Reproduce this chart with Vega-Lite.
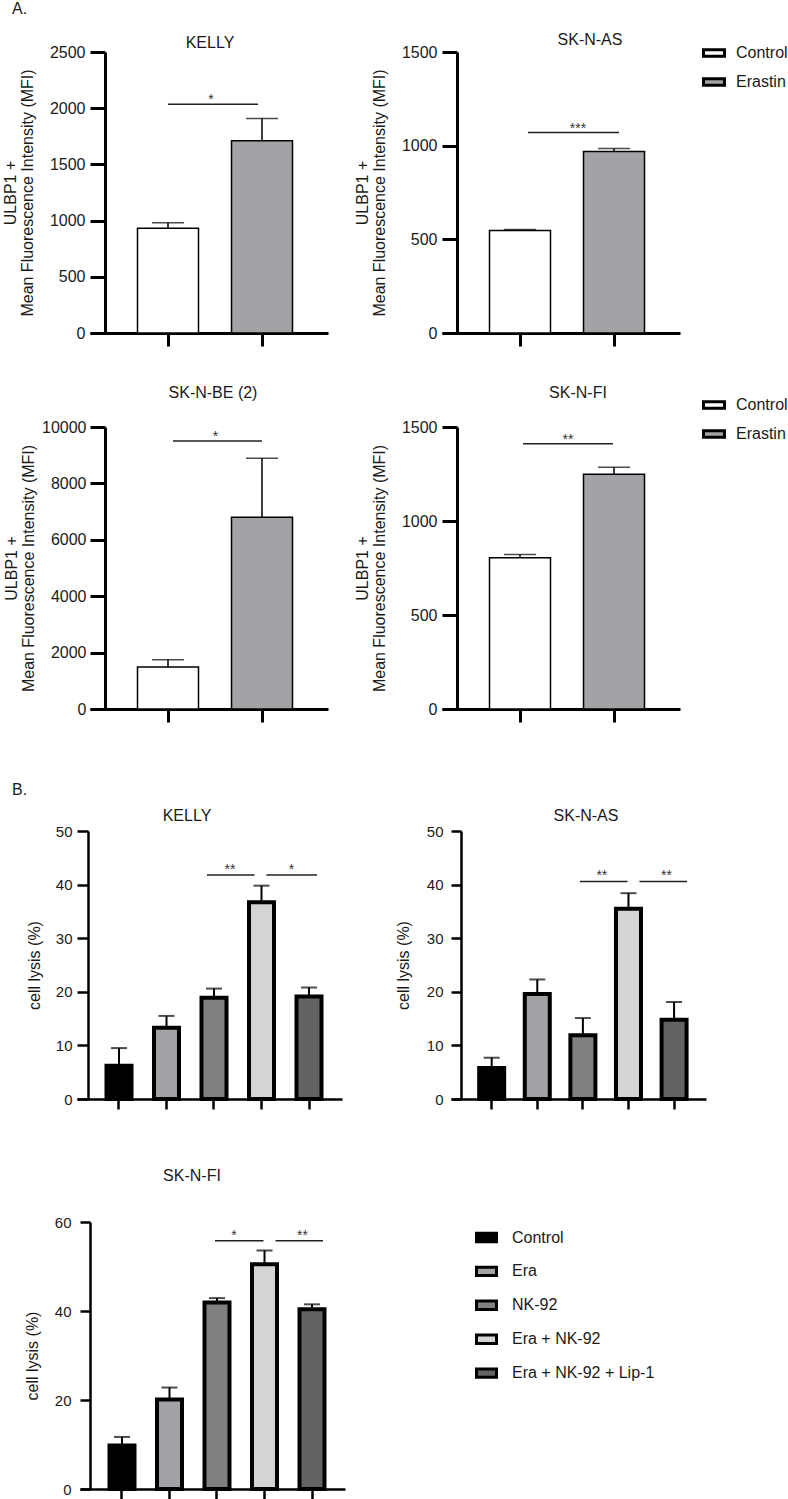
{
  "$schema": "https://vega.github.io/schema/vega-lite/v6.json",
  "padding": 0,
  "bounds": "flush",
  "columns": 4,
  "align": "each",
  "spacing": {"row": 0, "column": 0},
  "resolve": {"scale": {"fill": "independent"}, "legend": {"fill": "independent"}},
  "config": {
    "font": "Liberation Sans",
    "view": {"stroke": null},
    "axis": {
      "grid": false,
      "domainColor": "black",
      "tickColor": "black",
      "labelColor": "#1a1a1a",
      "labelFont": "Liberation Sans",
      "labelFontSize": 16,
      "titleFont": "Liberation Sans",
      "titleFontSize": 16,
      "titleFontWeight": "normal",
      "titleColor": "#1a1a1a",
      "titleLineHeight": 17
    },
    "title": {"font": "Liberation Sans", "fontSize": 16, "fontWeight": "normal", "color": "#1a1a1a", "frame": "group", "baseline": "alphabetic"},
    "legend": {"labelFont": "Liberation Sans", "labelFontSize": 16, "labelColor": "#1a1a1a"}
  },
  "datasets": {
    "mfi": [
      {"cell": "KELLY", "group": "Control", "mean": 931, "upper": 981},
      {"cell": "KELLY", "group": "Erastin", "mean": 1711, "upper": 1908},
      {"cell": "SK-N-AS", "group": "Control", "mean": 547, "upper": 553},
      {"cell": "SK-N-AS", "group": "Erastin", "mean": 969, "upper": 985},
      {"cell": "SK-N-BE (2)", "group": "Control", "mean": 1491, "upper": 1750},
      {"cell": "SK-N-BE (2)", "group": "Erastin", "mean": 6804, "upper": 8889},
      {"cell": "SK-N-FI", "group": "Control", "mean": 805, "upper": 822},
      {"cell": "SK-N-FI", "group": "Erastin", "mean": 1249, "upper": 1286}
    ],
    "mfi_sig": [
      {"cell": "KELLY", "a": "Control", "b": "Erastin", "level": 2035, "p": "*"},
      {"cell": "SK-N-AS", "a": "Control", "b": "Erastin", "level": 1070, "p": "***"},
      {"cell": "SK-N-BE (2)", "a": "Control", "b": "Erastin", "level": 9503, "p": "*"},
      {"cell": "SK-N-FI", "a": "Control", "b": "Erastin", "level": 1411, "p": "**"}
    ],
    "lysis": [
      {"cell": "KELLY", "treatment": "Control", "mean": 6.2, "upper": 9.5},
      {"cell": "KELLY", "treatment": "Era", "mean": 13.3, "upper": 15.5},
      {"cell": "KELLY", "treatment": "NK-92", "mean": 18.9, "upper": 20.6},
      {"cell": "KELLY", "treatment": "Era + NK-92", "mean": 36.7, "upper": 39.8},
      {"cell": "KELLY", "treatment": "Era + NK-92 + Lip-1", "mean": 19.1, "upper": 20.8},
      {"cell": "SK-N-AS", "treatment": "Control", "mean": 5.8, "upper": 7.7},
      {"cell": "SK-N-AS", "treatment": "Era", "mean": 19.6, "upper": 22.3},
      {"cell": "SK-N-AS", "treatment": "NK-92", "mean": 11.9, "upper": 15.1},
      {"cell": "SK-N-AS", "treatment": "Era + NK-92", "mean": 35.5, "upper": 38.4},
      {"cell": "SK-N-AS", "treatment": "Era + NK-92 + Lip-1", "mean": 14.8, "upper": 18.1},
      {"cell": "SK-N-FI", "treatment": "Control", "mean": 9.8, "upper": 11.7},
      {"cell": "SK-N-FI", "treatment": "Era", "mean": 20.1, "upper": 22.8},
      {"cell": "SK-N-FI", "treatment": "NK-92", "mean": 41.9, "upper": 42.9},
      {"cell": "SK-N-FI", "treatment": "Era + NK-92", "mean": 50.5, "upper": 53.6},
      {"cell": "SK-N-FI", "treatment": "Era + NK-92 + Lip-1", "mean": 40.4, "upper": 41.5}
    ],
    "lysis_sig": [
      {"cell": "KELLY", "a": "NK-92", "b": "Era + NK-92", "level": 41.8, "p": "**"},
      {"cell": "KELLY", "a": "Era + NK-92", "b": "Era + NK-92 + Lip-1", "level": 41.8, "p": "*"},
      {"cell": "SK-N-AS", "a": "NK-92", "b": "Era + NK-92", "level": 40.6, "p": "**"},
      {"cell": "SK-N-AS", "a": "Era + NK-92", "b": "Era + NK-92 + Lip-1", "level": 40.6, "p": "**"},
      {"cell": "SK-N-FI", "a": "NK-92", "b": "Era + NK-92", "level": 55.8, "p": "*"},
      {"cell": "SK-N-FI", "a": "Era + NK-92", "b": "Era + NK-92 + Lip-1", "level": 55.8, "p": "**"}
    ]
  },
  "concat": [
    {"width": 77, "height": 52, "data": {"values": []}, "mark": "rule", "encoding": {}},
    {"width": 1, "height": 1, "data": {"values": []}, "mark": "rule", "encoding": {}},
    {"width": 97, "height": 1, "data": {"values": []}, "mark": "rule", "encoding": {}},
    {"width": 1, "height": 1, "data": {"values": []}, "mark": "rule", "encoding": {}},

    {"width": 1, "height": 1, "data": {"values": []}, "mark": "rule", "encoding": {},
     "title": {"text": "A.", "anchor": "start", "dx": 12, "offset": 35.5}},
    {
      "width": 251, "height": 281,
      "title": {"text": "KELLY", "anchor": "middle", "dx": 7.5, "offset": -6.7},
      "layer": [
        {
          "data": {"name": "mfi"},
          "transform": [{"filter": "datum.cell === 'KELLY'"}],
          "layer": [
            {
              "mark": {"type": "bar", "stroke": "black", "strokeWidth": 1.5},
              "encoding": {
                "x": {"field": "group", "type": "nominal", "scale": {"domain": ["Control", "Erastin"], "range": [13, 251], "paddingInner": 0.3511, "paddingOuter": 0.4415, "align": 0.5723}, "axis": {"title": null, "labels": false, "tickSize": 13, "tickWidth": 3, "domainWidth": 3}},
                "y": {"field": "mean", "type": "quantitative", "scale": {"domain": [0, 2500], "nice": false}, "axis": {"values": [0, 500, 1000, 1500, 2000, 2500], "format": "d", "offset": -28, "tickSize": 15, "tickWidth": 3, "domainWidth": 3, "labelPadding": 5, "title": ["ULBP1 +", "Mean Fluorescence Intensity (MFI)"], "titlePadding": 14}},
                "fill": {"field": "group", "type": "nominal", "scale": {"domain": ["Control", "Erastin"], "range": ["#ffffff", "#a3a2a7"]}, "legend": null}
              }
            },
            {
              "mark": {"type": "rule", "strokeWidth": 1.5, "color": "black"},
              "encoding": {
                "x": {"field": "group", "type": "nominal", "scale": {"domain": ["Control", "Erastin"]}},
                "y": {"field": "mean", "type": "quantitative"},
                "y2": {"field": "upper"}
              }
            },
            {
              "mark": {"type": "tick", "orient": "horizontal", "size": 32, "thickness": 1.5, "color": "black"},
              "encoding": {
                "x": {"field": "group", "type": "nominal", "scale": {"domain": ["Control", "Erastin"]}},
                "y": {"field": "upper", "type": "quantitative"}
              }
            }
          ]
        },
        {
          "data": {"name": "mfi_sig"},
          "transform": [{"filter": "datum.cell === 'KELLY'"}],
          "layer": [
            {
              "mark": {"type": "rule", "strokeWidth": 1.5, "color": "#222", "xOffset": 0, "x2Offset": -4},
              "encoding": {
                "x": {"field": "a", "type": "nominal", "scale": {"domain": ["Control", "Erastin"]}},
                "x2": {"field": "b"},
                "y": {"field": "level", "type": "quantitative"}
              }
            },
            {
              "mark": {"type": "text", "fontSize": 14, "color": "#333", "dx": 43, "baseline": "alphabetic"},
              "encoding": {
                "x": {"field": "a", "type": "nominal", "scale": {"domain": ["Control", "Erastin"]}},
                "y": {"field": "level", "type": "quantitative"},
                "text": {"field": "p"}
              }
            }
          ]
        }
      ]
    },
    {"width": 1, "height": 1, "data": {"values": []}, "mark": "rule", "encoding": {}},
    {
      "width": 238, "height": 281,
      "title": {"text": "SK-N-AS", "anchor": "middle", "dx": 29, "offset": -6.7},
      "layer": [
        {
          "data": {"name": "mfi"},
          "transform": [{"filter": "datum.cell === 'SK-N-AS'"}],
          "layer": [
            {
              "mark": {"type": "bar", "stroke": "black", "strokeWidth": 1.5},
              "encoding": {
                "x": {"field": "group", "type": "nominal", "scale": {"domain": ["Control", "Erastin"], "paddingInner": 0.3511, "paddingOuter": 0.4415, "align": 0.5723}, "axis": {"title": null, "labels": false, "tickSize": 13, "tickWidth": 3, "domainWidth": 3}},
                "y": {"field": "mean", "type": "quantitative", "scale": {"domain": [0, 1500], "nice": false}, "axis": {"values": [0, 500, 1000, 1500], "format": "d", "offset": -15, "tickSize": 15, "tickWidth": 3, "domainWidth": 3, "labelPadding": 5, "title": ["ULBP1 +", "Mean Fluorescence Intensity (MFI)"], "titlePadding": 14}},
                "fill": {"field": "group", "type": "nominal", "scale": {"domain": ["Control", "Erastin"], "range": ["#ffffff", "#a3a2a7"]}, "legend": {"title": null, "orient": "none", "legendX": 260, "legendY": -11, "symbolType": "M-1,-0.3H1V0.3H-1Z", "symbolSize": 441, "symbolStrokeColor": "black", "symbolStrokeWidth": 3, "labelOffset": 10, "rowPadding": 7}}
              }
            },
            {
              "mark": {"type": "rule", "strokeWidth": 1.5, "color": "black"},
              "encoding": {
                "x": {"field": "group", "type": "nominal", "scale": {"domain": ["Control", "Erastin"]}},
                "y": {"field": "mean", "type": "quantitative"},
                "y2": {"field": "upper"}
              }
            },
            {
              "mark": {"type": "tick", "orient": "horizontal", "size": 32, "thickness": 1.5, "color": "black"},
              "encoding": {
                "x": {"field": "group", "type": "nominal", "scale": {"domain": ["Control", "Erastin"]}},
                "y": {"field": "upper", "type": "quantitative"}
              }
            }
          ]
        },
        {
          "data": {"name": "mfi_sig"},
          "transform": [{"filter": "datum.cell === 'SK-N-AS'"}],
          "layer": [
            {
              "mark": {"type": "rule", "strokeWidth": 1.5, "color": "#222", "xOffset": 8, "x2Offset": 5},
              "encoding": {
                "x": {"field": "a", "type": "nominal", "scale": {"domain": ["Control", "Erastin"]}},
                "x2": {"field": "b"},
                "y": {"field": "level", "type": "quantitative"}
              }
            },
            {
              "mark": {"type": "text", "fontSize": 14, "color": "#333", "dx": 58, "baseline": "alphabetic"},
              "encoding": {
                "x": {"field": "a", "type": "nominal", "scale": {"domain": ["Control", "Erastin"]}},
                "y": {"field": "level", "type": "quantitative"},
                "text": {"field": "p"}
              }
            }
          ]
        }
      ]
    },

    {"width": 1, "height": 94, "data": {"values": []}, "mark": "rule", "encoding": {}},
    {"width": 1, "height": 1, "data": {"values": []}, "mark": "rule", "encoding": {}},
    {"width": 1, "height": 1, "data": {"values": []}, "mark": "rule", "encoding": {}},
    {"width": 1, "height": 1, "data": {"values": []}, "mark": "rule", "encoding": {}},

    {"width": 1, "height": 1, "data": {"values": []}, "mark": "rule", "encoding": {}},
    {
      "width": 251, "height": 282,
      "title": {"text": "SK-N-BE (2)", "anchor": "middle", "dx": 10.5, "offset": 18.3},
      "layer": [
        {
          "data": {"name": "mfi"},
          "transform": [{"filter": "datum.cell === 'SK-N-BE (2)'"}],
          "layer": [
            {
              "mark": {"type": "bar", "stroke": "black", "strokeWidth": 1.5},
              "encoding": {
                "x": {"field": "group", "type": "nominal", "scale": {"domain": ["Control", "Erastin"], "range": [13, 251], "paddingInner": 0.3511, "paddingOuter": 0.4415, "align": 0.5723}, "axis": {"title": null, "labels": false, "tickSize": 13, "tickWidth": 3, "domainWidth": 3}},
                "y": {"field": "mean", "type": "quantitative", "scale": {"domain": [0, 10000], "nice": false}, "axis": {"values": [0, 2000, 4000, 6000, 8000, 10000], "format": "d", "offset": -28, "tickSize": 15, "tickWidth": 3, "domainWidth": 3, "labelPadding": 4, "title": ["ULBP1 +", "Mean Fluorescence Intensity (MFI)"], "titlePadding": 5}},
                "fill": {"field": "group", "type": "nominal", "scale": {"domain": ["Control", "Erastin"], "range": ["#ffffff", "#a3a2a7"]}, "legend": null}
              }
            },
            {
              "mark": {"type": "rule", "strokeWidth": 1.5, "color": "black"},
              "encoding": {
                "x": {"field": "group", "type": "nominal", "scale": {"domain": ["Control", "Erastin"]}},
                "y": {"field": "mean", "type": "quantitative"},
                "y2": {"field": "upper"}
              }
            },
            {
              "mark": {"type": "tick", "orient": "horizontal", "size": 32, "thickness": 1.5, "color": "black"},
              "encoding": {
                "x": {"field": "group", "type": "nominal", "scale": {"domain": ["Control", "Erastin"]}},
                "y": {"field": "upper", "type": "quantitative"}
              }
            }
          ]
        },
        {
          "data": {"name": "mfi_sig"},
          "transform": [{"filter": "datum.cell === 'SK-N-BE (2)'"}],
          "layer": [
            {
              "mark": {"type": "rule", "strokeWidth": 1.5, "color": "#222", "xOffset": 5, "x2Offset": 0},
              "encoding": {
                "x": {"field": "a", "type": "nominal", "scale": {"domain": ["Control", "Erastin"]}},
                "x2": {"field": "b"},
                "y": {"field": "level", "type": "quantitative"}
              }
            },
            {
              "mark": {"type": "text", "fontSize": 14, "color": "#333", "dx": 47.5, "baseline": "alphabetic"},
              "encoding": {
                "x": {"field": "a", "type": "nominal", "scale": {"domain": ["Control", "Erastin"]}},
                "y": {"field": "level", "type": "quantitative"},
                "text": {"field": "p"}
              }
            }
          ]
        }
      ]
    },
    {"width": 1, "height": 1, "data": {"values": []}, "mark": "rule", "encoding": {}},
    {
      "width": 238, "height": 282,
      "title": {"text": "SK-N-FI", "anchor": "middle", "dx": 17, "offset": -7.7},
      "layer": [
        {
          "data": {"name": "mfi"},
          "transform": [{"filter": "datum.cell === 'SK-N-FI'"}],
          "layer": [
            {
              "mark": {"type": "bar", "stroke": "black", "strokeWidth": 1.5},
              "encoding": {
                "x": {"field": "group", "type": "nominal", "scale": {"domain": ["Control", "Erastin"], "paddingInner": 0.3511, "paddingOuter": 0.4415, "align": 0.5723}, "axis": {"title": null, "labels": false, "tickSize": 13, "tickWidth": 3, "domainWidth": 3}},
                "y": {"field": "mean", "type": "quantitative", "scale": {"domain": [0, 1500], "nice": false}, "axis": {"values": [0, 500, 1000, 1500], "format": "d", "offset": -15, "tickSize": 15, "tickWidth": 3, "domainWidth": 3, "labelPadding": 5, "title": ["ULBP1 +", "Mean Fluorescence Intensity (MFI)"], "titlePadding": 14}},
                "fill": {"field": "group", "type": "nominal", "scale": {"domain": ["Control", "Erastin"], "range": ["#ffffff", "#a3a2a7"]}, "legend": {"title": null, "orient": "none", "legendX": 260, "legendY": -34, "symbolType": "M-1,-0.3H1V0.3H-1Z", "symbolSize": 441, "symbolStrokeColor": "black", "symbolStrokeWidth": 3, "labelOffset": 10, "rowPadding": 7}}
              }
            },
            {
              "mark": {"type": "rule", "strokeWidth": 1.5, "color": "black"},
              "encoding": {
                "x": {"field": "group", "type": "nominal", "scale": {"domain": ["Control", "Erastin"]}},
                "y": {"field": "mean", "type": "quantitative"},
                "y2": {"field": "upper"}
              }
            },
            {
              "mark": {"type": "tick", "orient": "horizontal", "size": 32, "thickness": 1.5, "color": "black"},
              "encoding": {
                "x": {"field": "group", "type": "nominal", "scale": {"domain": ["Control", "Erastin"]}},
                "y": {"field": "upper", "type": "quantitative"}
              }
            }
          ]
        },
        {
          "data": {"name": "mfi_sig"},
          "transform": [{"filter": "datum.cell === 'SK-N-FI'"}],
          "layer": [
            {
              "mark": {"type": "rule", "strokeWidth": 1.5, "color": "#222", "xOffset": 3, "x2Offset": -1},
              "encoding": {
                "x": {"field": "a", "type": "nominal", "scale": {"domain": ["Control", "Erastin"]}},
                "x2": {"field": "b"},
                "y": {"field": "level", "type": "quantitative"}
              }
            },
            {
              "mark": {"type": "text", "fontSize": 14, "color": "#333", "dx": 48, "baseline": "alphabetic"},
              "encoding": {
                "x": {"field": "a", "type": "nominal", "scale": {"domain": ["Control", "Erastin"]}},
                "y": {"field": "level", "type": "quantitative"},
                "text": {"field": "p"}
              }
            }
          ]
        }
      ]
    },

    {"width": 1, "height": 121.5, "data": {"values": []}, "mark": "rule", "encoding": {}},
    {"width": 1, "height": 1, "data": {"values": []}, "mark": "rule", "encoding": {}},
    {"width": 1, "height": 1, "data": {"values": []}, "mark": "rule", "encoding": {}},
    {"width": 1, "height": 1, "data": {"values": []}, "mark": "rule", "encoding": {}},

    {"width": 1, "height": 1, "data": {"values": []}, "mark": "rule", "encoding": {},
     "title": {"text": "B.", "anchor": "start", "dx": 12, "offset": 32.8}},
    {
      "width": 265, "height": 268,
      "title": {"text": "KELLY", "anchor": "middle", "dx": -22.5, "offset": 0.3},
      "layer": [
        {
          "data": {"name": "lysis"},
          "transform": [{"filter": "datum.cell === 'KELLY'"}],
          "layer": [
            {
              "mark": {"type": "bar", "stroke": "black", "strokeWidth": 4},
              "encoding": {
                "x": {"field": "treatment", "type": "nominal", "scale": {"domain": ["Control", "Era", "NK-92", "Era + NK-92", "Era + NK-92 + Lip-1"], "paddingInner": 0.4737, "paddingOuter": 0.5263, "align": 0.59}, "axis": {"title": null, "labels": false, "tickSize": 10, "tickWidth": 2.5, "domainWidth": 2.5}},
                "y": {"field": "mean", "type": "quantitative", "scale": {"domain": [0, 50], "nice": false}, "axis": {"values": [0, 10, 20, 30, 40, 50], "offset": -11, "tickSize": 11, "tickWidth": 2.5, "domainWidth": 2.5, "labelPadding": 5, "labelFontSize": 15, "title": "cell lysis (%)", "titlePadding": 13}},
                "fill": {"field": "treatment", "type": "nominal", "scale": {"domain": ["Control", "Era", "NK-92", "Era + NK-92", "Era + NK-92 + Lip-1"], "range": ["#000000", "#a2a1a6", "#808080", "#d4d4d4", "#636363"]}, "legend": null}
              }
            },
            {
              "mark": {"type": "rule", "strokeWidth": 2, "color": "black"},
              "encoding": {
                "x": {"field": "treatment", "type": "nominal", "scale": {"domain": ["Control", "Era", "NK-92", "Era + NK-92", "Era + NK-92 + Lip-1"]}},
                "y": {"field": "mean", "type": "quantitative"},
                "y2": {"field": "upper"}
              }
            },
            {
              "mark": {"type": "tick", "orient": "horizontal", "size": 16, "thickness": 2, "color": "black"},
              "encoding": {
                "x": {"field": "treatment", "type": "nominal", "scale": {"domain": ["Control", "Era", "NK-92", "Era + NK-92", "Era + NK-92 + Lip-1"]}},
                "y": {"field": "upper", "type": "quantitative"}
              }
            }
          ]
        },
        {
          "data": {"name": "lysis_sig"},
          "transform": [{"filter": "datum.cell === 'KELLY' && datum.b === 'Era + NK-92'"}],
          "layer": [
            {
              "mark": {"type": "rule", "strokeWidth": 1.5, "color": "#222", "xOffset": -7, "x2Offset": -7},
              "encoding": {
                "x": {"field": "a", "type": "nominal", "scale": {"domain": ["Control", "Era", "NK-92", "Era + NK-92", "Era + NK-92 + Lip-1"]}},
                "x2": {"field": "b"},
                "y": {"field": "level", "type": "quantitative"}
              }
            },
            {
              "mark": {"type": "text", "fontSize": 14, "color": "#333", "dx": 16, "dy": -1, "baseline": "alphabetic"},
              "encoding": {
                "x": {"field": "a", "type": "nominal", "scale": {"domain": ["Control", "Era", "NK-92", "Era + NK-92", "Era + NK-92 + Lip-1"]}},
                "y": {"field": "level", "type": "quantitative"},
                "text": {"field": "p"}
              }
            }
          ]
        },
        {
          "data": {"name": "lysis_sig"},
          "transform": [{"filter": "datum.cell === 'KELLY' && datum.a === 'Era + NK-92'"}],
          "layer": [
            {
              "mark": {"type": "rule", "strokeWidth": 1.5, "color": "#222", "xOffset": 5, "x2Offset": 8},
              "encoding": {
                "x": {"field": "a", "type": "nominal", "scale": {"domain": ["Control", "Era", "NK-92", "Era + NK-92", "Era + NK-92 + Lip-1"]}},
                "x2": {"field": "b"},
                "y": {"field": "level", "type": "quantitative"}
              }
            },
            {
              "mark": {"type": "text", "fontSize": 14, "color": "#333", "dx": 30, "dy": -1, "baseline": "alphabetic"},
              "encoding": {
                "x": {"field": "a", "type": "nominal", "scale": {"domain": ["Control", "Era", "NK-92", "Era + NK-92", "Era + NK-92 + Lip-1"]}},
                "y": {"field": "level", "type": "quantitative"},
                "text": {"field": "p"}
              }
            }
          ]
        }
      ]
    },
    {"width": 1, "height": 1, "data": {"values": []}, "mark": "rule", "encoding": {}},
    {
      "width": 264, "height": 268,
      "title": {"text": "SK-N-AS", "anchor": "middle", "dx": 12, "offset": 0.3},
      "layer": [
        {
          "data": {"name": "lysis"},
          "transform": [{"filter": "datum.cell === 'SK-N-AS'"}],
          "layer": [
            {
              "mark": {"type": "bar", "stroke": "black", "strokeWidth": 4},
              "encoding": {
                "x": {"field": "treatment", "type": "nominal", "scale": {"domain": ["Control", "Era", "NK-92", "Era + NK-92", "Era + NK-92 + Lip-1"], "range": [9, 264], "paddingInner": 0.4518, "paddingOuter": 0.522, "align": 0.592}, "axis": {"title": null, "labels": false, "tickSize": 10, "tickWidth": 2.5, "domainWidth": 2.5}},
                "y": {"field": "mean", "type": "quantitative", "scale": {"domain": [0, 50], "nice": false}, "axis": {"values": [0, 10, 20, 30, 40, 50], "offset": -19, "tickSize": 10, "tickWidth": 2.5, "domainWidth": 2.5, "labelPadding": 8, "labelFontSize": 15, "title": "cell lysis (%)", "titlePadding": 15}},
                "fill": {"field": "treatment", "type": "nominal", "scale": {"domain": ["Control", "Era", "NK-92", "Era + NK-92", "Era + NK-92 + Lip-1"], "range": ["#000000", "#a2a1a6", "#808080", "#d4d4d4", "#636363"]}, "legend": null}
              }
            },
            {
              "mark": {"type": "rule", "strokeWidth": 2, "color": "black"},
              "encoding": {
                "x": {"field": "treatment", "type": "nominal", "scale": {"domain": ["Control", "Era", "NK-92", "Era + NK-92", "Era + NK-92 + Lip-1"]}},
                "y": {"field": "mean", "type": "quantitative"},
                "y2": {"field": "upper"}
              }
            },
            {
              "mark": {"type": "tick", "orient": "horizontal", "size": 16, "thickness": 2, "color": "black"},
              "encoding": {
                "x": {"field": "treatment", "type": "nominal", "scale": {"domain": ["Control", "Era", "NK-92", "Era + NK-92", "Era + NK-92 + Lip-1"]}},
                "y": {"field": "upper", "type": "quantitative"}
              }
            }
          ]
        },
        {
          "data": {"name": "lysis_sig"},
          "transform": [{"filter": "datum.cell === 'SK-N-AS' && datum.b === 'Era + NK-92'"}],
          "layer": [
            {
              "mark": {"type": "rule", "strokeWidth": 1.5, "color": "#222", "xOffset": -3, "x2Offset": -1},
              "encoding": {
                "x": {"field": "a", "type": "nominal", "scale": {"domain": ["Control", "Era", "NK-92", "Era + NK-92", "Era + NK-92 + Lip-1"]}},
                "x2": {"field": "b"},
                "y": {"field": "level", "type": "quantitative"}
              }
            },
            {
              "mark": {"type": "text", "fontSize": 14, "color": "#333", "dx": 19, "dy": -1, "baseline": "alphabetic"},
              "encoding": {
                "x": {"field": "a", "type": "nominal", "scale": {"domain": ["Control", "Era", "NK-92", "Era + NK-92", "Era + NK-92 + Lip-1"]}},
                "y": {"field": "level", "type": "quantitative"},
                "text": {"field": "p"}
              }
            }
          ]
        },
        {
          "data": {"name": "lysis_sig"},
          "transform": [{"filter": "datum.cell === 'SK-N-AS' && datum.a === 'Era + NK-92'"}],
          "layer": [
            {
              "mark": {"type": "rule", "strokeWidth": 1.5, "color": "#222", "xOffset": 11, "x2Offset": 13},
              "encoding": {
                "x": {"field": "a", "type": "nominal", "scale": {"domain": ["Control", "Era", "NK-92", "Era + NK-92", "Era + NK-92 + Lip-1"]}},
                "x2": {"field": "b"},
                "y": {"field": "level", "type": "quantitative"}
              }
            },
            {
              "mark": {"type": "text", "fontSize": 14, "color": "#333", "dx": 38, "dy": -1, "baseline": "alphabetic"},
              "encoding": {
                "x": {"field": "a", "type": "nominal", "scale": {"domain": ["Control", "Era", "NK-92", "Era + NK-92", "Era + NK-92 + Lip-1"]}},
                "y": {"field": "level", "type": "quantitative"},
                "text": {"field": "p"}
              }
            }
          ]
        }
      ]
    },

    {"width": 1, "height": 122.5, "data": {"values": []}, "mark": "rule", "encoding": {}},
    {"width": 1, "height": 1, "data": {"values": []}, "mark": "rule", "encoding": {}},
    {"width": 1, "height": 1, "data": {"values": []}, "mark": "rule", "encoding": {}},
    {"width": 1, "height": 1, "data": {"values": []}, "mark": "rule", "encoding": {}},

    {"width": 1, "height": 1, "data": {"values": []}, "mark": "rule", "encoding": {}},
    {
      "width": 268, "height": 267,
      "title": {"text": "SK-N-FI", "anchor": "middle", "dx": -19, "offset": 30.8},
      "layer": [
        {
          "data": {"name": "lysis"},
          "transform": [{"filter": "datum.cell === 'SK-N-FI'"}],
          "layer": [
            {
              "mark": {"type": "bar", "stroke": "black", "strokeWidth": 4},
              "encoding": {
                "x": {"field": "treatment", "type": "nominal", "scale": {"domain": ["Control", "Era", "NK-92", "Era + NK-92", "Era + NK-92 + Lip-1"], "range": [3, 268], "paddingInner": 0.4737, "paddingOuter": 0.5263, "align": 0.59}, "axis": {"title": null, "labels": false, "tickSize": 10, "tickWidth": 2.5, "domainWidth": 2.5}},
                "y": {"field": "mean", "type": "quantitative", "scale": {"domain": [0, 60], "nice": false}, "axis": {"values": [0, 20, 40, 60], "offset": -13, "tickSize": 10, "tickWidth": 2.5, "domainWidth": 2.5, "labelPadding": 9, "labelFontSize": 15, "title": "cell lysis (%)", "titlePadding": 14}},
                "fill": {"field": "treatment", "type": "nominal", "scale": {"domain": ["Control", "Era", "NK-92", "Era + NK-92", "Era + NK-92 + Lip-1"], "range": ["#000000", "#a2a1a6", "#808080", "#d4d4d4", "#636363"]}, "legend": {"title": null, "orient": "right", "offset": 126, "padding": 4, "symbolType": "M-1,-0.42H1V0.42H-1Z", "symbolSize": 400, "symbolStrokeColor": "black", "symbolStrokeWidth": 3, "labelOffset": 14, "rowPadding": 11.9}}
              }
            },
            {
              "mark": {"type": "rule", "strokeWidth": 2, "color": "black"},
              "encoding": {
                "x": {"field": "treatment", "type": "nominal", "scale": {"domain": ["Control", "Era", "NK-92", "Era + NK-92", "Era + NK-92 + Lip-1"]}},
                "y": {"field": "mean", "type": "quantitative"},
                "y2": {"field": "upper"}
              }
            },
            {
              "mark": {"type": "tick", "orient": "horizontal", "size": 16, "thickness": 2, "color": "black"},
              "encoding": {
                "x": {"field": "treatment", "type": "nominal", "scale": {"domain": ["Control", "Era", "NK-92", "Era + NK-92", "Era + NK-92 + Lip-1"]}},
                "y": {"field": "upper", "type": "quantitative"}
              }
            }
          ]
        },
        {
          "data": {"name": "lysis_sig"},
          "transform": [{"filter": "datum.cell === 'SK-N-FI' && datum.b === 'Era + NK-92'"}],
          "layer": [
            {
              "mark": {"type": "rule", "strokeWidth": 1.5, "color": "#222", "xOffset": -2, "x2Offset": -1},
              "encoding": {
                "x": {"field": "a", "type": "nominal", "scale": {"domain": ["Control", "Era", "NK-92", "Era + NK-92", "Era + NK-92 + Lip-1"]}},
                "x2": {"field": "b"},
                "y": {"field": "level", "type": "quantitative"}
              }
            },
            {
              "mark": {"type": "text", "fontSize": 14, "color": "#333", "dx": 17, "dy": -1, "baseline": "alphabetic"},
              "encoding": {
                "x": {"field": "a", "type": "nominal", "scale": {"domain": ["Control", "Era", "NK-92", "Era + NK-92", "Era + NK-92 + Lip-1"]}},
                "y": {"field": "level", "type": "quantitative"},
                "text": {"field": "p"}
              }
            }
          ]
        },
        {
          "data": {"name": "lysis_sig"},
          "transform": [{"filter": "datum.cell === 'SK-N-FI' && datum.a === 'Era + NK-92'"}],
          "layer": [
            {
              "mark": {"type": "rule", "strokeWidth": 1.5, "color": "#222", "xOffset": 11, "x2Offset": 11},
              "encoding": {
                "x": {"field": "a", "type": "nominal", "scale": {"domain": ["Control", "Era", "NK-92", "Era + NK-92", "Era + NK-92 + Lip-1"]}},
                "x2": {"field": "b"},
                "y": {"field": "level", "type": "quantitative"}
              }
            },
            {
              "mark": {"type": "text", "fontSize": 14, "color": "#333", "dx": 38, "dy": -1, "baseline": "alphabetic"},
              "encoding": {
                "x": {"field": "a", "type": "nominal", "scale": {"domain": ["Control", "Era", "NK-92", "Era + NK-92", "Era + NK-92 + Lip-1"]}},
                "y": {"field": "level", "type": "quantitative"},
                "text": {"field": "p"}
              }
            }
          ]
        }
      ]
    },
    {"width": 1, "height": 1, "data": {"values": []}, "mark": "rule", "encoding": {}},
    {"width": 1, "height": 1, "data": {"values": []}, "mark": "rule", "encoding": {}}
  ]
}
